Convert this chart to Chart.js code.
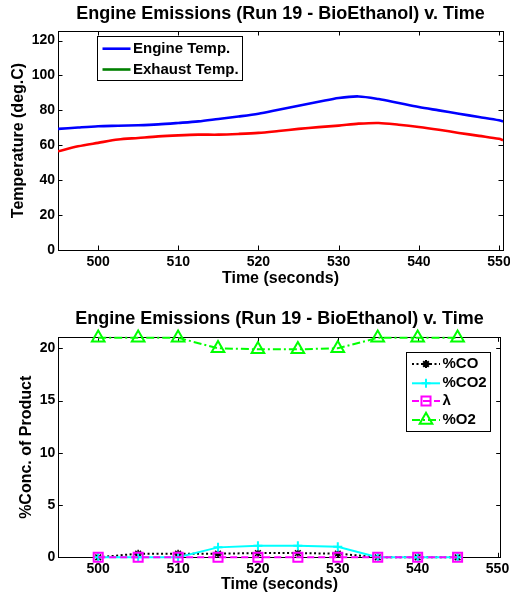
<!DOCTYPE html>
<html>
<head>
<meta charset="utf-8">
<script src="https://cdn.jsdelivr.net/npm/chart.js@4.4.1/dist/chart.umd.min.js"></script>
<style>
  html, body { margin: 0; padding: 0; background: #fff; }
  #wrap { position: relative; width: 510px; height: 598px; }
  canvas { position: absolute; left: 0; }
  #tempChart { top: 0; }
  #emisChart { top: 295px; }
</style>
</head>
<body>
<div id="wrap">
  <canvas id="tempChart" width="510" height="295"></canvas>
  <canvas id="emisChart" width="510" height="303"></canvas>
</div>
<script>
const FONT = '"Liberation Sans", Arial, Helvetica, sans-serif';
const chartTitle = 'Engine Emissions (Run 19 - BioEthanol) v. Time';

// Temperature log (seconds, deg.C)
const tempTime    = [495, 497.5, 500, 502.5, 505, 507.5, 510, 512.5, 515, 517.5, 520, 522.5,
                     525, 527.5, 530, 532.5, 535, 537.5, 540, 542.5, 545, 547.5, 550, 550.5];
const engineTemp  = [69.4, 70.2, 70.9, 71.2, 71.5, 72.0, 72.8, 73.7, 75.1, 76.5, 78.1, 80.4,
                     82.7, 84.9, 87.1, 88.0, 86.5, 84.2, 81.9, 80.0, 78.1, 76.2, 74.3, 73.7];
const exhaustTemp = [56.6, 59.4, 61.4, 63.3, 64.2, 65.1, 65.7, 66.1, 66.1, 66.5, 67.1, 68.2,
                     69.4, 70.4, 71.3, 72.4, 72.8, 71.8, 70.5, 68.9, 67.1, 65.4, 63.7, 62.9];
const tempLabels  = ['Engine Temp.', 'Exhaust Temp.'];
const tempTicksX  = [500, 510, 520, 530, 540, 550];
const tempTicksY  = [0, 20, 40, 60, 80, 100, 120];

// Exhaust gas analyser samples
const emisTime   = [500, 505, 510, 515, 520, 525, 530, 535, 540, 545];
const pctCO      = [0, 0.35, 0.35, 0.35, 0.4, 0.4, 0.35, 0, 0, 0];
const pctCO2     = [0, 0, 0, 0.95, 1.1, 1.1, 1.0, 0, 0, 0];
const lambda     = [0, 0, 0, 0, 0, 0, 0, 0, 0, 0];
const pctO2      = [21, 21, 21, 20, 19.9, 19.9, 20, 21, 21, 21];
const emisLabels = ['%CO', '%CO2', 'λ', '%O2'];
const emisTicksX = [500, 510, 520, 530, 540, 550];
const emisTicksY = [0, 5, 10, 15, 20];

const toXY = (xs, ys) => xs.map((x, i) => ({ x, y: ys[i] }));
const fixedTicks = vals => scale => { scale.ticks = vals.map(v => ({ value: v })); };

Chart.defaults.color = '#000';
Chart.defaults.font.family = FONT;
Chart.defaults.animation = false;

// Boxed axes with inward tick marks on all four sides
const axesBox = {
  id: 'axesBox',
  beforeDatasetsDraw(chart, args, opts) {
    const { ctx, chartArea: a, scales } = chart;
    const len = opts.tickLen || 4.5;
    ctx.save();
    ctx.strokeStyle = '#000';
    ctx.lineWidth = 1;
    ctx.beginPath();
    scales.x.ticks.forEach(t => {
      const px = Math.round(scales.x.getPixelForValue(t.value)) + 0.5;
      ctx.moveTo(px, a.bottom); ctx.lineTo(px, a.bottom - len);
      ctx.moveTo(px, a.top);    ctx.lineTo(px, a.top + len);
    });
    scales.y.ticks.forEach(t => {
      const py = Math.round(scales.y.getPixelForValue(t.value)) + 0.5;
      ctx.moveTo(a.left, py);  ctx.lineTo(a.left + len, py);
      ctx.moveTo(a.right, py); ctx.lineTo(a.right - len, py);
    });
    ctx.stroke();
    ctx.strokeRect(Math.round(a.left) + 0.5, Math.round(a.top) + 0.5,
                   Math.round(a.right - a.left), Math.round(a.bottom - a.top));
    ctx.restore();
  }
};

function drawMarker(ctx, style, x, y, r, color) {
  if (!style) return;
  ctx.save();
  ctx.strokeStyle = color;
  ctx.lineWidth = 2;
  ctx.setLineDash([]);
  ctx.beginPath();
  if (style === 'triangle') {
    for (let k = 0; k < 3; k++) {
      const ang = k * 2 * Math.PI / 3;
      const px = x + Math.sin(ang) * r, py = y - Math.cos(ang) * r;
      if (k === 0) ctx.moveTo(px, py); else ctx.lineTo(px, py);
    }
    ctx.closePath();
  } else if (style === 'rect') {
    const s = r * Math.SQRT1_2;
    ctx.rect(x - s, y - s, 2 * s, 2 * s);
  } else if (style === 'cross') {
    ctx.moveTo(x - r, y); ctx.lineTo(x + r, y);
    ctx.moveTo(x, y - r); ctx.lineTo(x, y + r);
  } else if (style === 'star') {
    ctx.moveTo(x - r, y); ctx.lineTo(x + r, y);
    ctx.moveTo(x, y - r); ctx.lineTo(x, y + r);
    const d = r * Math.SQRT1_2;
    ctx.moveTo(x - d, y - d); ctx.lineTo(x + d, y + d);
    ctx.moveTo(x - d, y + d); ctx.lineTo(x + d, y - d);
  }
  ctx.stroke();
  ctx.restore();
}

// Framed legend placed inside the plot area
const boxLegend = {
  id: 'boxLegend',
  afterDraw(chart, args, o) {
    const { ctx } = chart;
    ctx.save();
    ctx.fillStyle = '#fff';
    ctx.fillRect(o.left, o.top, o.right - o.left, o.bottom - o.top);
    ctx.strokeStyle = '#000';
    ctx.lineWidth = 1;
    ctx.strokeRect(o.left + 0.5, o.top + 0.5, o.right - o.left, o.bottom - o.top);
    o.items.forEach((it, i) => {
      const y = o.rows[i];
      ctx.save();
      ctx.strokeStyle = it.color;
      ctx.lineWidth = it.width;
      ctx.setLineDash(it.dash || []);
      ctx.beginPath();
      ctx.moveTo(o.lineFrom, y); ctx.lineTo(o.lineTo, y);
      ctx.stroke();
      ctx.restore();
      drawMarker(ctx, it.marker, (o.lineFrom + o.lineTo) / 2, y, it.radius, it.color);
      ctx.fillStyle = '#000';
      ctx.font = 'bold ' + o.fontSize + 'px ' + FONT;
      ctx.textBaseline = 'middle';
      ctx.textAlign = 'left';
      ctx.fillText(it.label, o.textX, y);
    });
    ctx.restore();
  }
};

const tickFont = { size: 14, weight: 'bold', family: FONT };
const axisTitleFont = { size: 16, weight: 'bold', family: FONT };
const titleFont = { size: 18, weight: 'bold', family: FONT };
const noGrid = { display: false, drawTicks: false };

// ---- Temperature plot ----
new Chart(document.getElementById('tempChart'), {
  type: 'line',
  data: {
    datasets: [
      { label: tempLabels[0], data: toXY(tempTime, engineTemp), borderColor: '#0000ff',
        borderWidth: 2.6, pointRadius: 0, tension: 0.3 },
      { label: tempLabels[1], data: toXY(tempTime, exhaustTemp), borderColor: '#ff0000',
        borderWidth: 2.6, pointRadius: 0, tension: 0.3 }
    ]
  },
  options: {
    responsive: false,
    events: [],
    layout: { padding: { left: 0, right: 7, top: 0, bottom: 0 } },
    plugins: {
      legend: { display: false },
      tooltip: { enabled: false },
      title: { display: true, text: chartTitle, font: titleFont, color: '#000',
               fullSize: false, padding: { top: 3, bottom: 6.4 } },
      axesBox: { tickLen: 4.5 },
      boxLegend: {
        left: 97, top: 36, right: 242, bottom: 80,
        rows: [48.7, 69.5], lineFrom: 102.5, lineTo: 130.5, textX: 133, fontSize: 15,
        items: [
          { label: tempLabels[0], color: '#0000ff', width: 2.6 },
          { label: tempLabels[1], color: '#008000', width: 2.6 }
        ]
      }
    },
    scales: {
      x: {
        type: 'linear', position: 'bottom', min: 495, max: 550.5,
        afterBuildTicks: fixedTicks(tempTicksX),
        afterFit: s => { s.height = 45; s.paddingLeft = 0; s.paddingRight = 0; },
        grid: noGrid, border: { display: false },
        ticks: { font: tickFont, color: '#000', padding: 4, maxRotation: 0, autoSkip: false },
        title: { display: true, text: 'Time (seconds)', font: axisTitleFont, color: '#000',
                 padding: { top: 0, bottom: 7.1 } }
      },
      y: {
        min: 0, max: 125.5,
        afterBuildTicks: fixedTicks(tempTicksY),
        afterFit: s => { s.width = 58; s.paddingTop = 0; s.paddingBottom = 0; },
        grid: noGrid, border: { display: false },
        ticks: { font: tickFont, color: '#000', padding: 3, autoSkip: false },
        title: { display: true, text: 'Temperature (deg.C)', font: axisTitleFont, color: '#000',
                 padding: { top: 9, bottom: 0 } }
      }
    }
  },
  plugins: [axesBox, boxLegend]
});

// ---- Emissions plot ----
new Chart(document.getElementById('emisChart'), {
  type: 'line',
  data: {
    datasets: [
      { label: emisLabels[0], data: toXY(emisTime, pctCO), order: 4, clip: false,
        borderColor: '#000', borderWidth: 2, borderDash: [2, 2.5],
        pointStyle: 'star', pointRadius: 4, pointBorderWidth: 1.5,
        pointBorderColor: '#000', pointBackgroundColor: 'rgba(0,0,0,0)' },
      { label: emisLabels[1], data: toXY(emisTime, pctCO2), order: 3, clip: false,
        borderColor: '#00ffff', borderWidth: 2,
        pointStyle: 'cross', pointRadius: 4.5, pointBorderWidth: 2,
        pointBorderColor: '#00ffff', pointBackgroundColor: 'rgba(0,0,0,0)' },
      { label: emisLabels[2], data: toXY(emisTime, lambda), order: 2, clip: false,
        borderColor: '#ff00ff', borderWidth: 2, borderDash: [7, 4],
        pointStyle: 'rect', pointRadius: 6.4, pointBorderWidth: 2,
        pointBorderColor: '#ff00ff', pointBackgroundColor: 'rgba(0,0,0,0)' },
      { label: emisLabels[3], data: toXY(emisTime, pctO2), order: 1, clip: false,
        borderColor: '#00ff00', borderWidth: 2, borderDash: [8, 3, 2, 3],
        pointStyle: 'triangle', pointRadius: 7.3, pointBorderWidth: 2,
        pointBorderColor: '#00ff00', pointBackgroundColor: 'rgba(0,0,0,0)' }
    ]
  },
  options: {
    responsive: false,
    events: [],
    layout: { padding: { left: 0, right: 6.7, top: 0, bottom: 0 } },
    plugins: {
      legend: { display: false },
      tooltip: { enabled: false },
      title: { display: true, text: chartTitle, font: titleFont, color: '#000',
               fullSize: false, padding: { top: 13.5, bottom: 7.2 } },
      axesBox: { tickLen: 4.5 },
      boxLegend: {
        left: 406, top: 57, right: 490, bottom: 136,
        rows: [69, 88.3, 106, 125], lineFrom: 412, lineTo: 440, textX: 442.5, fontSize: 15,
        items: [
          { label: emisLabels[0], color: '#000', width: 2, dash: [2, 2.5], marker: 'star', radius: 4 },
          { label: emisLabels[1], color: '#00ffff', width: 2, marker: 'cross', radius: 4.5 },
          { label: emisLabels[2], color: '#ff00ff', width: 2, dash: [7, 4], marker: 'rect', radius: 6.4 },
          { label: emisLabels[3], color: '#00ff00', width: 2, dash: [8, 3, 2, 3], marker: 'triangle', radius: 7.3 }
        ]
      }
    },
    scales: {
      x: {
        type: 'linear', position: 'bottom', min: 495, max: 550.4,
        afterBuildTicks: fixedTicks(emisTicksX),
        afterFit: s => { s.height = 40.7; s.paddingLeft = 0; s.paddingRight = 0; },
        grid: noGrid, border: { display: false },
        ticks: { font: tickFont, color: '#000', padding: 3, maxRotation: 0, autoSkip: false },
        title: { display: true, text: 'Time (seconds)', font: axisTitleFont, color: '#000',
                 padding: { top: 0, bottom: 3.4 } }
      },
      y: {
        min: 0, max: 21.05,
        afterBuildTicks: fixedTicks(emisTicksY),
        afterFit: s => { s.width = 58.3; s.paddingTop = 0; s.paddingBottom = 0; },
        grid: noGrid, border: { display: false },
        ticks: { font: tickFont, color: '#000', padding: 3, autoSkip: false },
        title: { display: true, text: '%Conc. of Product', font: axisTitleFont, color: '#000',
                 padding: { top: 17.4, bottom: 0 } }
      }
    }
  },
  plugins: [axesBox, boxLegend]
});
</script>
</body>
</html>
